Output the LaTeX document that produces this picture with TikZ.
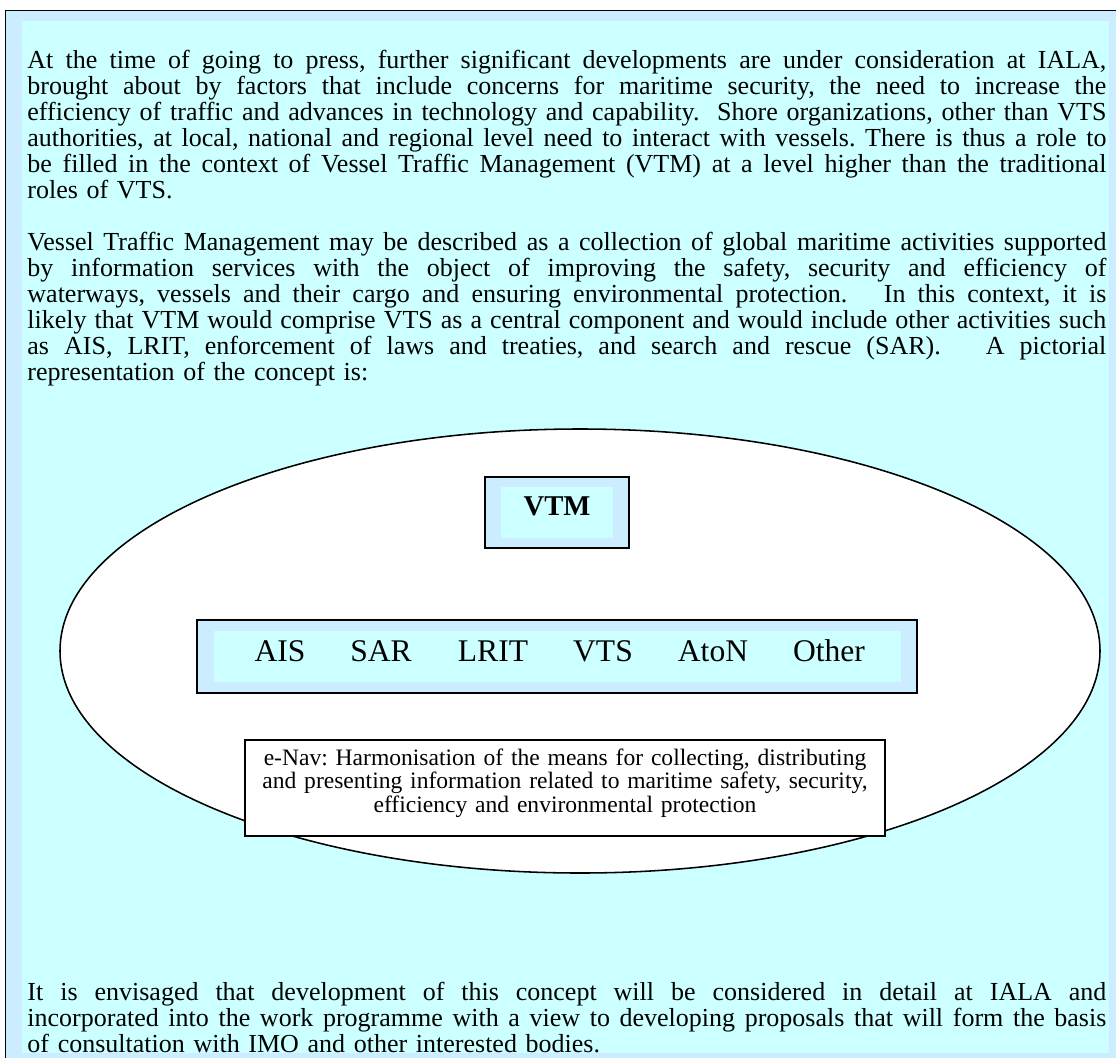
\documentclass[tikz,border=0pt]{standalone}
\usepackage{fontspec}
\setmainfont{Liberation Serif}
\usetikzlibrary{positioning}
\definecolor{paleblue}{HTML}{CCECFF}
\definecolor{palecyan}{HTML}{CCFFFF}
% one justified line of the text block
\newcommand{\jl}[1]{\leavevmode\hbox to 485.5pt{\spaceskip=0.25em plus 0.8em minus 0.1em\relax
  \xspaceskip=\spaceskip #1}}
\tikzset{
  para/.style={anchor=base west, inner sep=0pt, text width=485.5pt,
    font=\fontsize{11.7}{11.7}\selectfont},
  svc/.style={anchor=base, inner sep=0pt, font=\fontsize{14.2}{17}\selectfont},
  edge/.style={draw=black, line width=0.6pt}
}
\frenchspacing
\begin{document}
\begin{tikzpicture}[x=0.45pt,y=-0.45pt]
\useasboundingbox (0,0) rectangle (1116,1057);
% frame
\fill[paleblue] (5.5,10.5) rectangle (1120,1060);
\fill[palecyan] (22,21) rectangle (1109,1053);
\draw[line width=0.75pt] (5.5,1060) -- (5.5,10.5) -- (1120,10.5);
% text
\node[para] (intro) at (27,68) {%
\jl{At the time of going to press, further significant developments are under consideration at IALA,}\\
\jl{brought about by factors that include concerns for maritime security, the need to increase the}\\
\jl{efficiency of traffic and advances in technology and capability.\ \ Shore organizations, other than VTS}\\
\jl{authorities, at local, national and regional level need to interact with vessels. There is thus a role to}\\
\jl{be filled in the context of Vessel Traffic Management (VTM) at a level higher than the traditional}\\
roles of VTS.};
\node[para] (concept) at (27,250) {%
\jl{Vessel Traffic Management may be described as a collection of global maritime activities supported}\\
\jl{by information services with the object of improving the safety, security and efficiency of}\\
\jl{waterways, vessels and their cargo and ensuring environmental protection.\ \ \ In this context, it is}\\
\jl{likely that VTM would comprise VTS as a central component and would include other activities such}\\
\jl{as AIS, LRIT, enforcement of laws and treaties, and search and rescue (SAR).\ \ \ A pictorial}\\
representation of the concept is:};
\node[para] (outlook) at (27,1000) {%
\jl{It is envisaged that development of this concept will be considered in detail at IALA and}\\
\jl{incorporated into the work programme with a view to developing proposals that will form the basis}\\
of consultation with IMO and other interested bodies.};
% vtm ellipse
\draw[fill=white, line width=0.7pt] (580,651) ellipse [x radius=234pt, y radius=99.9pt];
% vtm box
\draw[edge, fill=paleblue] (485,477) rectangle (629,548);
\fill[palecyan] (501,487) rectangle (613,538);
\node[anchor=base, inner sep=0pt, font=\fontsize{12.9}{15}\selectfont\bfseries] (vtm) at (557,515) {VTM};
% services box
\draw[edge, fill=paleblue] (197,620) rectangle (917,693);
\fill[palecyan] (214,631) rectangle (901,682);
\foreach \x/\name in {280/AIS,381/SAR,493/LRIT,603/VTS,713/AtoN,829/Other}
  \node[svc] (\name) at (\x,661) {\name};
% e-nav box
\draw[edge, fill=white] (245,740) rectangle (885,836);
\node[anchor=base, inner sep=0pt, text width=280pt,
  font=\fontsize{10.6}{9.5}\selectfont] (enav) at (565,765)
  {\centering e-Nav: Harmonisation of the means for collecting, distributing\\
   and presenting information related to maritime safety, security,\\
   efficiency and environmental protection\par};
\end{tikzpicture}
\end{document}
